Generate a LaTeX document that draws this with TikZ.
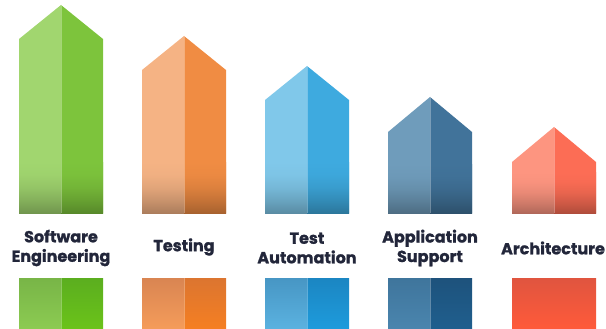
\documentclass[tikz,border=0pt]{standalone}
\usepackage{fontspec}
\setmainfont{Poppins}[BoldFeatures={FakeBold=1.2}]
\definecolor{grnL}{HTML}{A1D66F}
\definecolor{grnR}{HTML}{7DC43C}
\definecolor{orgL}{HTML}{F5B384}
\definecolor{orgR}{HTML}{F08C43}
\definecolor{bluL}{HTML}{80C8EA}
\definecolor{bluR}{HTML}{3EAADF}
\definecolor{navL}{HTML}{6F9CBB}
\definecolor{navR}{HTML}{41739A}
\definecolor{redL}{HTML}{FD9580}
\definecolor{redR}{HTML}{FC6D55}
\definecolor{ink}{HTML}{22263A}
% base colours, top and bottom
\definecolor{grnLt}{HTML}{78B547}\definecolor{grnLb}{HTML}{8CCB52}
\definecolor{grnRt}{HTML}{5BAE1F}\definecolor{grnRb}{HTML}{6BC31A}
\definecolor{orgLt}{HTML}{D98552}\definecolor{orgLb}{HTML}{F59C5A}
\definecolor{orgRt}{HTML}{DC7530}\definecolor{orgRb}{HTML}{F57F22}
\definecolor{bluLt}{HTML}{4796C4}\definecolor{bluLb}{HTML}{5BB2E0}
\definecolor{bluRt}{HTML}{1B86C2}\definecolor{bluRb}{HTML}{1E9BDC}
\definecolor{navLt}{HTML}{3F759C}\definecolor{navLb}{HTML}{4A85AE}
\definecolor{navRt}{HTML}{1E527C}\definecolor{navRb}{HTML}{1F5F8E}
\definecolor{redBt}{HTML}{E0553F}\definecolor{redBb}{HTML}{FF5A3A}
\colorlet{facecol}{white}
\pgfdeclareverticalshading[facecol]{easeface}{100bp}{color(0bp)=(facecol!70!black); color(25bp)=(facecol!70!black); color(37.5bp)=(facecol!82!black); color(50bp)=(facecol!92!black); color(62.5bp)=(facecol!98!black); color(75bp)=(facecol); color(100bp)=(facecol)}
\begin{document}
\begin{tikzpicture}[x=1pt,y=-1pt]
			\tikzstyle{lbl} = [text=ink, font=\bfseries\fontsize{16}{19.5}\selectfont, align=center, inner sep=0]
			\tikzstyle{seam} = [white, opacity=0.3, line width=0.7pt]
			\tikzstyle{dim} = [shading=easeface]
			\useasboundingbox (0,0) rectangle (606,329);
			
			% software engineering
			\fill [grnL] (19,213) -- (19,39) -- (61,5) -- (61,213) -- cycle;
			\fill [grnR] (61,213) -- (61,5) -- (103,39) -- (103,213) -- cycle;
			\colorlet{facecol}{grnL}\shade [dim] (19,162) rectangle (61,213);
			\colorlet{facecol}{grnR}\shade [dim] (61,162) rectangle (103,213);
			\shade [top color=grnLt, bottom color=grnLb] (19,278) rectangle (61,329);
			\shade [top color=grnRt, bottom color=grnRb] (61,278) rectangle (103,329);
			\draw [seam] (61,5) -- (61,213);
			\draw [seam] (61,278) -- (61,329);
			\node [lbl] (l1) at (61,248) {Software\\Engineering};
			
			% testing
			\fill [orgL] (142,213) -- (142,70) -- (184,36) -- (184,213) -- cycle;
			\fill [orgR] (184,213) -- (184,36) -- (226,70) -- (226,213) -- cycle;
			\colorlet{facecol}{orgL}\shade [dim] (142,162) rectangle (184,213);
			\colorlet{facecol}{orgR}\shade [dim] (184,162) rectangle (226,213);
			\shade [top color=orgLt, bottom color=orgLb] (142,278) rectangle (184,329);
			\shade [top color=orgRt, bottom color=orgRb] (184,278) rectangle (226,329);
			\draw [seam] (184,36) -- (184,213);
			\draw [seam] (184,278) -- (184,329);
			\node [lbl] (l2) at (184,247) {Testing};
			
			% test automation
			\fill [bluL] (265,213) -- (265,100) -- (307,66) -- (307,213) -- cycle;
			\fill [bluR] (307,213) -- (307,66) -- (349,100) -- (349,213) -- cycle;
			\colorlet{facecol}{bluL}\shade [dim] (265,162) rectangle (307,213);
			\colorlet{facecol}{bluR}\shade [dim] (307,162) rectangle (349,213);
			\shade [top color=bluLt, bottom color=bluLb] (265,278) rectangle (307,329);
			\shade [top color=bluRt, bottom color=bluRb] (307,278) rectangle (349,329);
			\draw [seam] (307,66) -- (307,213);
			\draw [seam] (307,278) -- (307,329);
			\node [lbl] (l3) at (307,248) {Test\\Automation};
			
			% application support
			\fill [navL] (388,213) -- (388,132) -- (430,97) -- (430,213) -- cycle;
			\fill [navR] (430,213) -- (430,97) -- (472,132) -- (472,213) -- cycle;
			\colorlet{facecol}{navL}\shade [dim] (388,164) rectangle (430,213);
			\colorlet{facecol}{navR}\shade [dim] (430,164) rectangle (472,213);
			\shade [top color=navLt, bottom color=navLb] (388,278) rectangle (430,329);
			\shade [top color=navRt, bottom color=navRb] (430,278) rectangle (472,329);
			\draw [seam] (430,97) -- (430,213);
			\draw [seam] (430,278) -- (430,329);
			\node [lbl] (l4) at (430,248) {Application\\Support};
			
			% architecture
			\fill [redL] (512,213) -- (512,162) -- (554,127) -- (554,213) -- cycle;
			\fill [redR] (554,213) -- (554,127) -- (596,162) -- (596,213) -- cycle;
			\colorlet{facecol}{redL}\shade [dim] (512,172) rectangle (554,213);
			\colorlet{facecol}{redR}\shade [dim] (554,172) rectangle (596,213);
			\shade [top color=redBt, bottom color=redBb] (512,278) rectangle (596,329);
			\draw [seam] (554,127) -- (554,213);
			\node [lbl] (l5) at (553,248) {Architecture};
			
		\end{tikzpicture}
\end{document}
